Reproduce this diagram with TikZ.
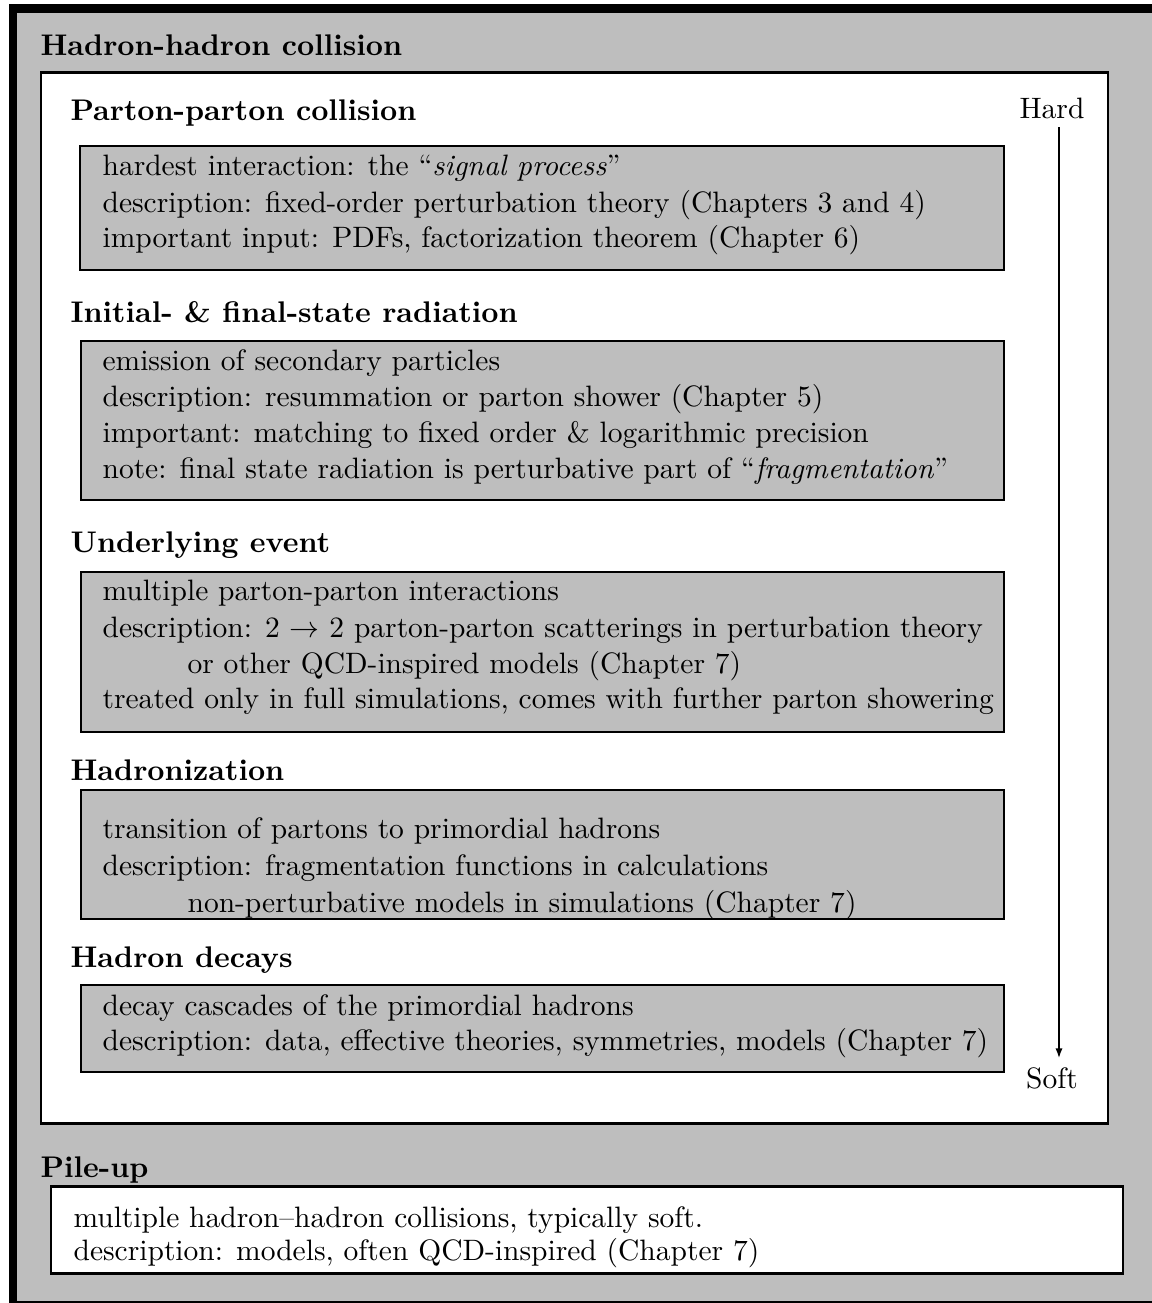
\documentclass[tikz,border=0pt]{standalone}
\usetikzlibrary{arrows.meta}
\definecolor{boxgray}{RGB}{190,190,190}
\begin{document}
\begin{tikzpicture}[x=0.3348pt,y=-0.3348pt,
  body/.style={anchor=base west, inner sep=0pt, font=\fontsize{9.88}{12}\selectfont},
  ttl/.style={anchor=base west, inner sep=0pt, font=\fontsize{10}{12}\selectfont\bfseries},
  lbl/.style={anchor=base, inner sep=0pt, font=\fontsize{9.88}{12}\selectfont},
  gbox/.style={draw=black, fill=boxgray, line width=0.95pt},
  wbox/.style={draw=black, fill=white, line width=1pt},
  hsarrow/.style={line width=0.5pt, -{Latex[length=3.2pt,width=2.4pt]}}]
\useasboundingbox (0,0) rectangle (1152,1303);
\clip (0,0) rectangle (1152,1303);
% outer frame
\draw[fill=boxgray, line width=3pt] (13,8.5) rectangle (1220,1305);
\node[ttl] (hhtitle) at (40,55) {Hadron-hadron collision};
% inner white box
\draw[wbox] (41,72) rectangle (1108,1123);
% Parton-parton collision
\node[ttl] (pptitle) at (70,120) {Parton-parton collision};
\draw[gbox] (80,146) rectangle (1004,270);
\node[body] (b1a) at (102,175) {hardest interaction: the “\emph{signal process}”};
\node[body] (b1b) at (102,212) {description: fixed-order perturbation theory (Chapters 3 and 4)};
\node[body] (b1c) at (102,247) {important input: PDFs, factorization theorem (Chapter 6)};
% ISR / FSR
\node[ttl] (isrtitle) at (70,322) {Initial- \& final-state radiation};
\draw[gbox] (81,341) rectangle (1004,500);
\node[body] (b2a) at (102,370) {emission of secondary particles};
\node[body] (b2b) at (102,406) {description: resummation or parton shower (Chapter 5)};
\node[body] (b2c) at (102,442) {important: matching to fixed order \& logarithmic precision};
\node[body] (b2d) at (102,478) {note: final state radiation is perturbative part of “\emph{fragmentation}”};
% Underlying event
\node[ttl] (uetitle) at (70,552) {Underlying event};
\draw[gbox] (81,572) rectangle (1004,732);
\node[body] (b3a) at (102,600) {multiple parton-parton interactions};
\node[body] (b3b) at (102,637) {description: 2 $\rightarrow$ 2 parton-parton scatterings in perturbation theory};
\node[body] (b3c) at (187,673) {or other QCD-inspired models (Chapter 7)};
\node[body] (b3d) at (102,708) {treated only in full simulations, comes with further parton showering};
% Hadronization
\node[ttl] (hztitle) at (70,780) {Hadronization};
\draw[gbox] (81,790) rectangle (1004,919);
\node[body] (b4a) at (102,838) {transition of partons to primordial hadrons};
\node[body] (b4b) at (102,875) {description: fragmentation functions in calculations};
\node[body] (b4c) at (187,912) {non-perturbative models in simulations (Chapter 7)};
% Hadron decays
\node[ttl] (hdtitle) at (70,967) {Hadron decays};
\draw[gbox] (81,985) rectangle (1004,1072);
\node[body] (b5a) at (102,1015) {decay cascades of the primordial hadrons};
\node[body] (b5b) at (102,1050) {description: data, effective theories, symmetries, models (Chapter 7)};
% Hard -> Soft
\node[lbl] (hard) at (1052,118) {Hard};
\node[lbl] (soft) at (1052,1088) {Soft};
\coordinate (atop) at (1059,127);
\coordinate (abot) at (1059,1058);
\draw[hsarrow] (atop) -- (abot);
% Pile-up
\node[ttl] (putitle) at (40,1177) {Pile-up};
\draw[wbox] (51,1186) rectangle (1123,1273);
\node[body] (pua) at (73,1227) {multiple hadron–hadron collisions, typically soft.};
\node[body] (pub) at (73,1260) {description: models, often QCD-inspired (Chapter 7)};
\end{tikzpicture}
\end{document}
